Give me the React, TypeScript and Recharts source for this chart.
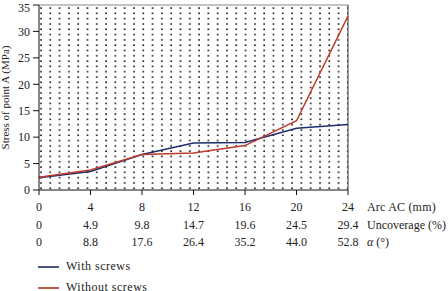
import { LineChart, Line, XAxis, YAxis, ReferenceArea, ReferenceLine, Legend } from 'recharts';

const arcAC = [0, 4, 8, 12, 16, 20, 24];
const uncoverage = ['0', '4.9', '9.8', '14.7', '19.6', '24.5', '29.4'];
const alphaDeg = ['0', '8.8', '17.6', '26.4', '35.2', '44.0', '52.8'];
const withScrews = [2.3, 3.5, 6.7, 8.9, 9.0, 11.7, 12.4];
const withoutScrews = [2.4, 3.8, 6.7, 7.0, 8.4, 13.1, 32.9];
const yTicks = [0, 5, 10, 15, 20, 25, 30, 35];

const data = arcAC.map((a, i) => ({
  arc: a,
  withScrews: withScrews[i],
  withoutScrews: withoutScrews[i],
}));

const FONT = '"Liberation Serif", "DejaVu Serif", serif';
const TEXT = '#222';
const BLUE = '#1c2d6e';
const RED = '#c0392b';
const legendColors: Record<string, string> = {
  'With screws': '#4a5782',
  'Without screws': '#b8604c',
};

function XTick(props: any) {
  const { x, y, payload } = props;
  const i = arcAC.indexOf(payload.value);
  const last = i === arcAC.length - 1;
  return (
    <g fontFamily={FONT} fontSize={12} fill={TEXT}>
      <text x={x} y={y + 15} textAnchor="middle">{payload.value}</text>
      <text x={x} y={y + 33} textAnchor="middle">{uncoverage[i]}</text>
      <text x={x} y={y + 50} textAnchor="middle">{alphaDeg[i]}</text>
      {last && (
        <>
          <text x={x + 19} y={y + 15} letterSpacing={0.2}>Arc AC (mm)</text>
          <text x={x + 19} y={y + 33}>Uncoverage (%)</text>
          <text x={x + 19} y={y + 50}>
            <tspan fontStyle="italic">α</tspan> (°)
          </text>
        </>
      )}
    </g>
  );
}

function LegendContent(props: any) {
  const { payload } = props;
  return (
    <div style={{ fontFamily: FONT, fontSize: 12, color: TEXT, letterSpacing: 0.5 }}>
      {payload.map((p: any) => (
        <div key={p.value} style={{ display: 'flex', alignItems: 'center', height: 21 }}>
          <span
            style={{
              display: 'inline-block',
              width: 21,
              height: 0,
              borderTop: `2px solid ${legendColors[p.value] ?? p.color}`,
              marginRight: 7,
            }}
          />
          <span>{p.value}</span>
        </div>
      ))}
    </div>
  );
}

export default function App() {
  return (
    <div style={{ width: 448, height: 291, background: '#fff', overflow: 'hidden' }}>
      <style>{`body{margin:0}`}</style>
      <LineChart width={448} height={291} data={data} margin={{ top: 5, right: 100, bottom: 0, left: 0 }}>
        <defs>
          <pattern id="dots" width={9.3} height={5.3} patternUnits="userSpaceOnUse">
            <rect x={3} y={2} width={1.6} height={1.6} fill="#111" />
          </pattern>
        </defs>
        <XAxis
          dataKey="arc"
          type="number"
          domain={[0, 24]}
          ticks={arcAC}
          height={101}
          tickSize={5}
          tickMargin={1}
          stroke="#111"
          tick={<XTick />}
          interval={0}
        />
        <YAxis
          type="number"
          domain={[0, 35]}
          ticks={yTicks}
          width={39}
          tickSize={6}
          tickMargin={3}
          stroke="#111"
          tick={{ fontFamily: FONT, fontSize: 12, fill: TEXT }}
          label={{
            value: 'Stress of point A (MPa)',
            angle: -90,
            position: 'insideLeft',
            offset: 5,
            style: { fontFamily: FONT, fontSize: 11, fill: TEXT, textAnchor: 'middle' },
          }}
        />
        <ReferenceArea x1={0} x2={24} y1={0} y2={35} fill="url(#dots)" fillOpacity={1} stroke="none" />
        <ReferenceLine y={35} stroke="#888" />
        <ReferenceLine x={24} stroke="#333" />
        <Legend
          layout="vertical"
          align="center"
          verticalAlign="middle"
          content={<LegendContent />}
          wrapperStyle={{ left: 38, top: 256, width: 200 }}
        />
        <Line
          type="linear"
          dataKey="withScrews"
          name="With screws"
          stroke={BLUE}
          strokeWidth={1.5}
          dot={false}
          isAnimationActive={false}
        />
        <Line
          type="linear"
          dataKey="withoutScrews"
          name="Without screws"
          stroke={RED}
          strokeWidth={1.5}
          dot={false}
          isAnimationActive={false}
        />
      </LineChart>
    </div>
  );
}
